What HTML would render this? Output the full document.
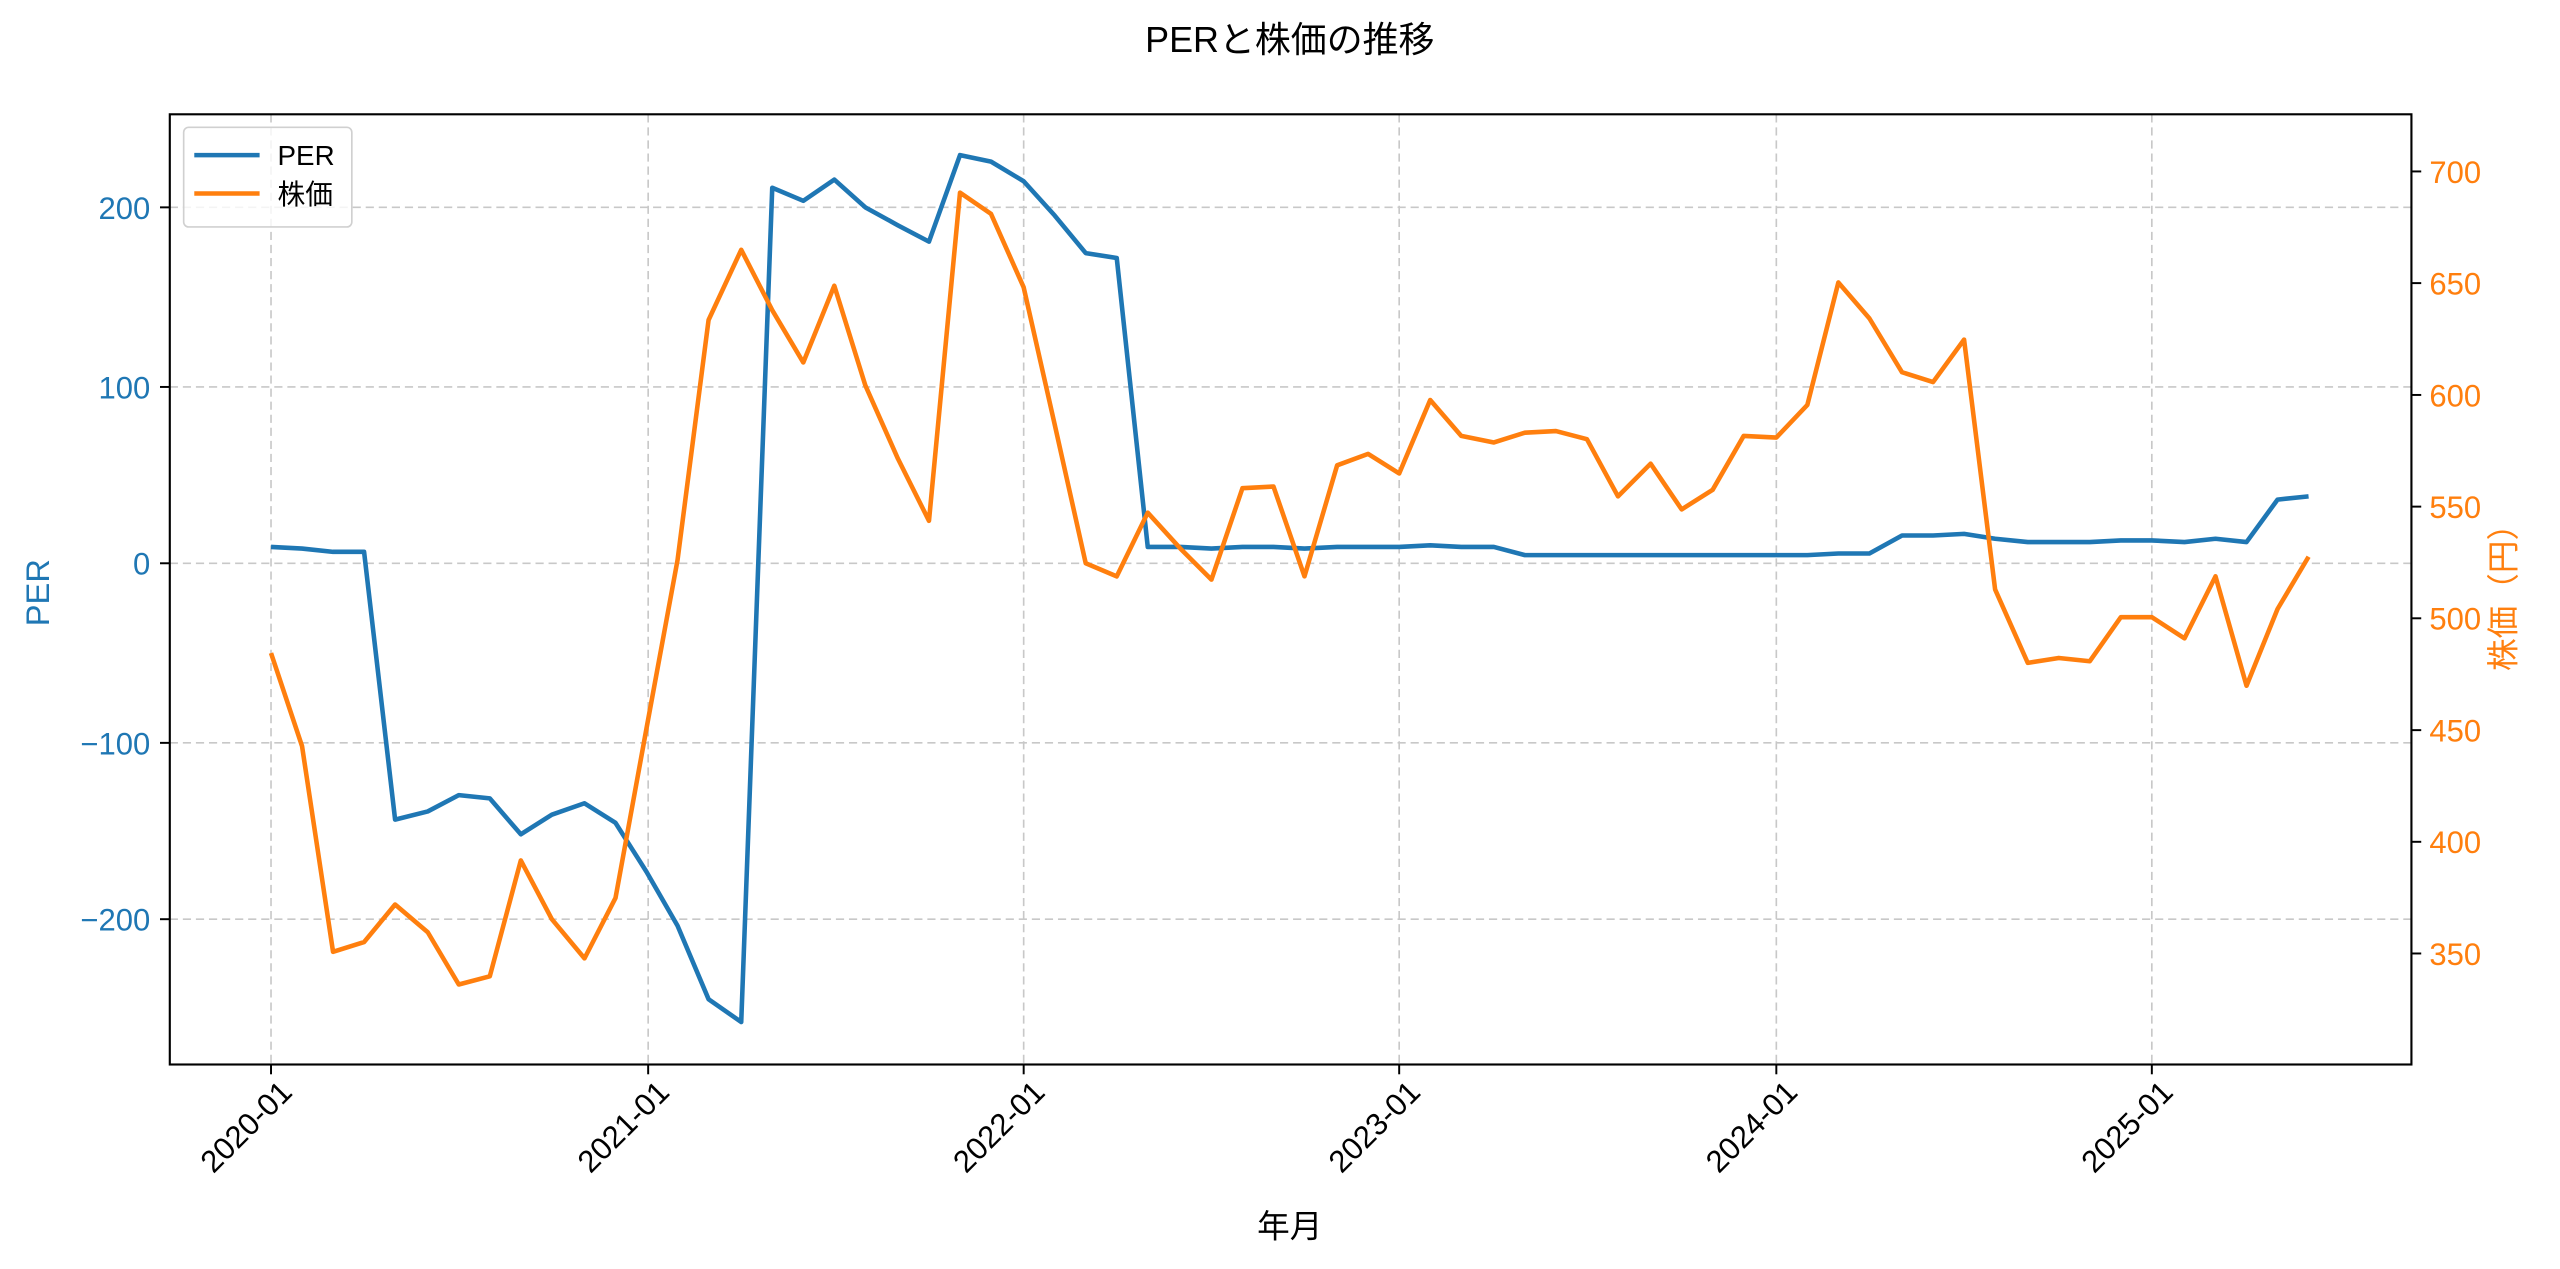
<!DOCTYPE html>
<html><head><meta charset="utf-8"><style>html,body{margin:0;padding:0;background:#fff}svg{display:block}text{font-family:"Liberation Sans","Noto Sans CJK JP",sans-serif}</style></head>
<body>
<svg width="2560" height="1269" viewBox="0 0 1568 777.25" xmlns="http://www.w3.org/2000/svg">
<rect width="1568" height="777.25" fill="#fff"/>
<text x="790" y="32" font-size="22" text-anchor="middle" fill="#000">PERと株価の推移</text>
<g stroke="#c8c8c8" stroke-width="1" stroke-dasharray="5,3">
<line x1="166" y1="70" x2="166" y2="652"/><line x1="397" y1="70" x2="397" y2="652"/><line x1="627" y1="70" x2="627" y2="652"/><line x1="857" y1="70" x2="857" y2="652"/><line x1="1088" y1="70" x2="1088" y2="652"/><line x1="1318" y1="70" x2="1318" y2="652"/>
<line x1="104" y1="127" x2="1477" y2="127"/><line x1="104" y1="237" x2="1477" y2="237"/><line x1="104" y1="345" x2="1477" y2="345"/><line x1="104" y1="455" x2="1477" y2="455"/><line x1="104" y1="563" x2="1477" y2="563"/>
</g>
<polyline fill="none" stroke="#1f77b4" stroke-width="2.8" stroke-linejoin="round" points="166,335 185,336 204,338 223,338 242,502 262,497 281,487 300,489 319,511 338,499 358,492 377,504 396,534 415,567 434,612 454,626 473,115 492,123 511,110 530,127 550,138 569,148 588,95 607,99 627,111 646,132 665,155 684,158 703,335 723,335 742,336 761,335 780,335 799,336 819,335 838,335 857,335 876,334 895,335 915,335 934,340 953,340 972,340 991,340 1011,340 1030,340 1049,340 1068,340 1088,340 1107,340 1126,339 1145,339 1165,328 1184,328 1203,327 1222,330 1242,332 1261,332 1280,332 1299,331 1318,331 1338,332 1357,330 1376,332 1395,306 1414,304"/>
<polyline fill="none" stroke="#ff7f0e" stroke-width="2.8" stroke-linejoin="round" points="166,400 185,457 204,583 223,577 242,554 262,571 281,603 300,598 319,527 338,563 358,587 377,550 396,446 415,343 434,196 454,153 473,190 492,222 511,175 530,236 550,281 569,319 588,118 607,131 627,176 646,260 665,345 684,353 703,314 723,336 742,355 761,299 780,298 799,353 819,285 838,278 857,290 876,245 895,267 915,271 934,265 953,264 972,269 991,304 1011,284 1030,312 1049,300 1068,267 1088,268 1107,248 1126,173 1145,195 1165,228 1184,234 1203,208 1222,361 1242,406 1261,403 1280,405 1299,378 1318,378 1338,391 1357,353 1376,420 1395,373 1414,341"/>
<rect x="104" y="70" width="1373" height="582" fill="none" stroke="#000" stroke-width="1.3"/>
<g stroke="#000" stroke-width="1.2">
<line x1="104" y1="127" x2="98" y2="127"/><line x1="104" y1="237" x2="98" y2="237"/><line x1="104" y1="345" x2="98" y2="345"/><line x1="104" y1="455" x2="98" y2="455"/><line x1="104" y1="563" x2="98" y2="563"/>
<line x1="1477" y1="105" x2="1483" y2="105"/><line x1="1477" y1="173.4" x2="1483" y2="173.4"/><line x1="1477" y1="241.9" x2="1483" y2="241.9"/><line x1="1477" y1="310.3" x2="1483" y2="310.3"/><line x1="1477" y1="378.7" x2="1483" y2="378.7"/><line x1="1477" y1="447.2" x2="1483" y2="447.2"/><line x1="1477" y1="515.6" x2="1483" y2="515.6"/><line x1="1477" y1="584" x2="1483" y2="584"/>
<line x1="166" y1="652" x2="166" y2="658"/><line x1="397" y1="652" x2="397" y2="658"/><line x1="627" y1="652" x2="627" y2="658"/><line x1="857" y1="652" x2="857" y2="658"/><line x1="1088" y1="652" x2="1088" y2="658"/><line x1="1318" y1="652" x2="1318" y2="658"/>
</g>
<g font-size="19" fill="#1f77b4" text-anchor="end">
<text x="92" y="134">200</text><text x="92" y="244">100</text><text x="92" y="352">0</text><text x="92" y="462">−100</text><text x="92" y="570">−200</text>
</g>
<g font-size="19" fill="#ff7f0e">
<text x="1488" y="112">700</text><text x="1488" y="180.4">650</text><text x="1488" y="248.9">600</text><text x="1488" y="317.3">550</text><text x="1488" y="385.7">500</text><text x="1488" y="454.2">450</text><text x="1488" y="522.6">400</text><text x="1488" y="591">350</text>
</g>
<g font-size="19" fill="#000" text-anchor="end">
<text transform="translate(180,670) rotate(-45)">2020-01</text>
<text transform="translate(411,670) rotate(-45)">2021-01</text>
<text transform="translate(641,670) rotate(-45)">2022-01</text>
<text transform="translate(871,670) rotate(-45)">2023-01</text>
<text transform="translate(1102,670) rotate(-45)">2024-01</text>
<text transform="translate(1332,670) rotate(-45)">2025-01</text>
</g>
<text x="790" y="758" font-size="20" text-anchor="middle" fill="#000">年月</text>
<text transform="translate(30,363) rotate(-90)" font-size="20" text-anchor="middle" fill="#1f77b4">PER</text>
<text transform="translate(1540,361) rotate(-90)" font-size="20" text-anchor="middle" fill="#ff7f0e">株価（円）</text>
<rect x="112.5" y="78" width="103" height="61" rx="3" fill="#fff" fill-opacity="0.8" stroke="#d0d0d0" stroke-width="1"/>
<line x1="119" y1="95" x2="159" y2="95" stroke="#1f77b4" stroke-width="2.8"/>
<line x1="119" y1="118.5" x2="159" y2="118.5" stroke="#ff7f0e" stroke-width="2.8"/>
<text x="170" y="101" font-size="17" fill="#000">PER</text>
<text x="170" y="125" font-size="17" fill="#000">株価</text>
</svg>
</body></html>
